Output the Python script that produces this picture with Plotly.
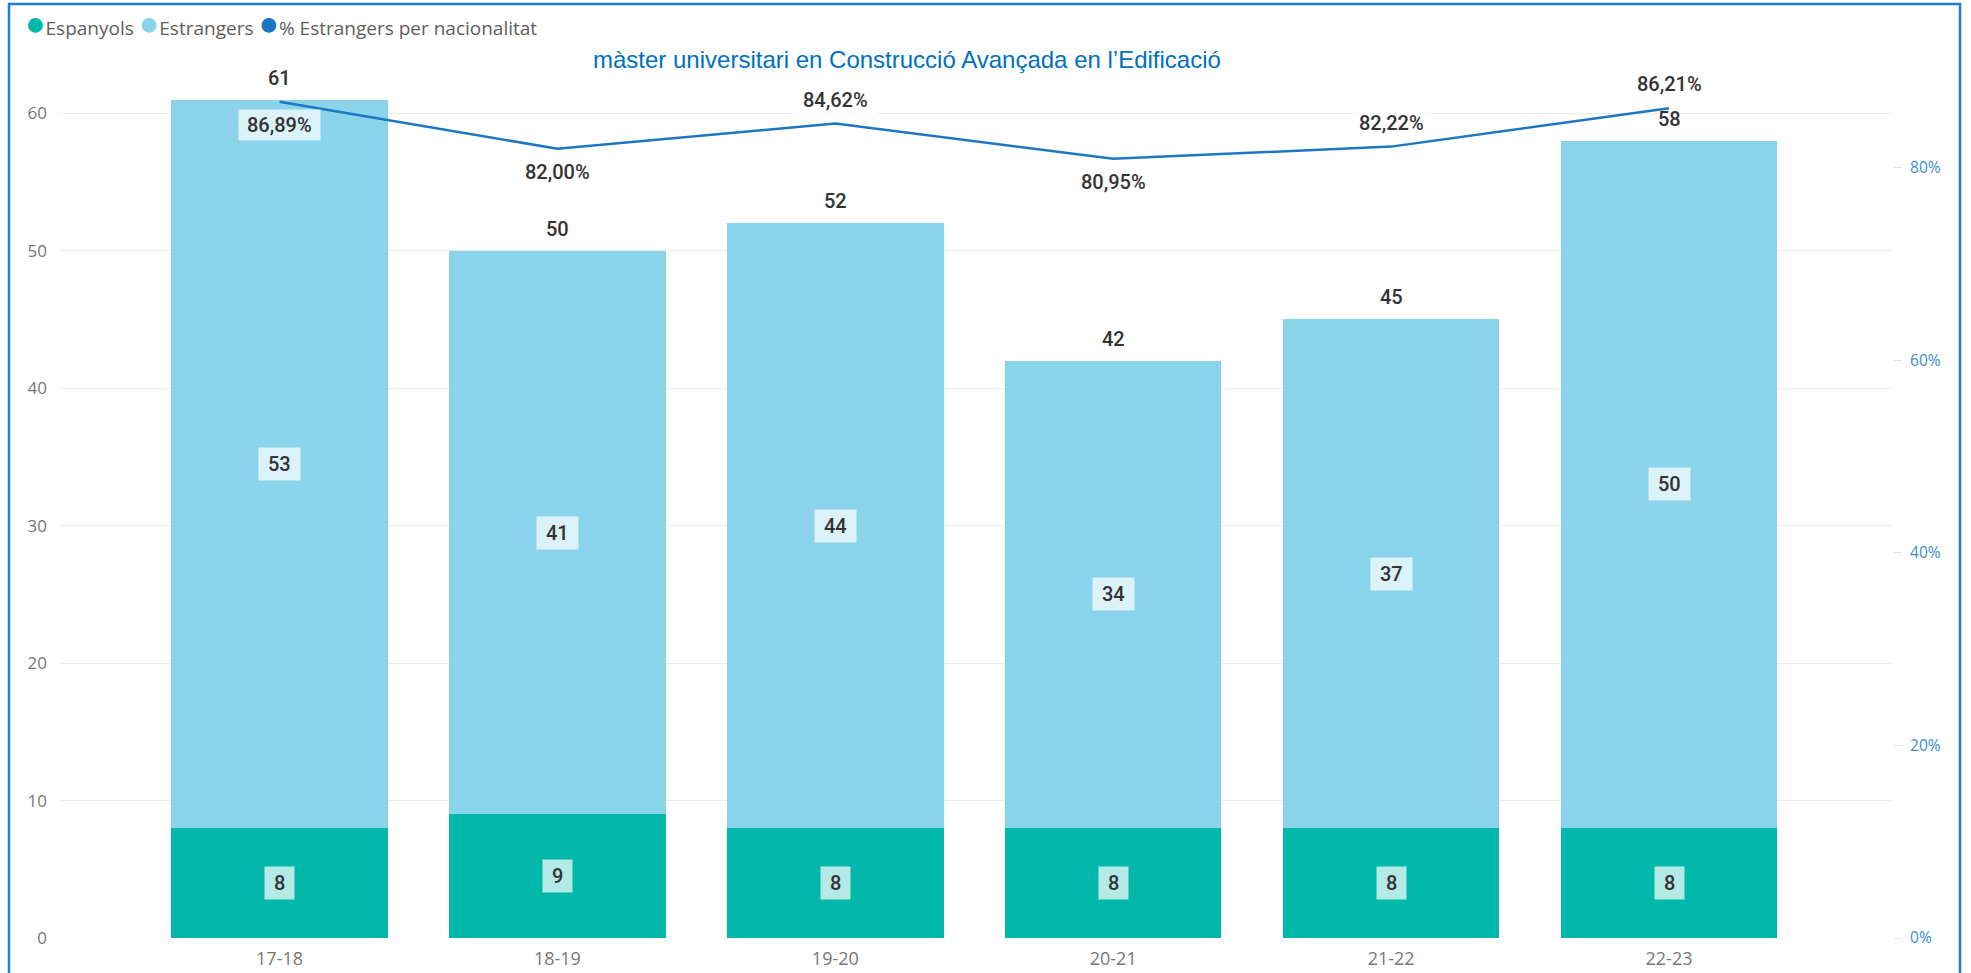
import plotly.graph_objects as go

# ---- data ----
categories = ["17-18", "18-19", "19-20", "20-21", "21-22", "22-23"]
espanyols = [8, 9, 8, 8, 8, 8]
estrangers = [53, 41, 44, 34, 37, 50]
pct_estrangers = [0.8689, 0.8200, 0.8462, 0.8095, 0.8222, 0.8621]
left_ticks = [0, 10, 20, 30, 40, 50, 60]
right_ticks = [0, 0.2, 0.4, 0.6, 0.8]
right_tick_labels = ["0%", "20%", "40%", "60%", "80%"]
title_text = "màster universitari en Construcció Avançada en l’Edificació"
legend_names = ["Espanyols", "Estrangers", "% Estrangers per nacionalitat"]

# ---- style ----
C_ESP = "#01B8AA"
C_EST = "#8AD4EB"
C_LINE = "#1C76C2"
C_RAXIS = "#3A8FD0"
LABEL_FONT = dict(family="Roboto", size=20, color="#333333", weight=500)
BOX_BG = "rgba(255,255,255,0.7)"
NB = "\u00a0"
pct_side = [-1, -1, 1, -1, 1, 1]  # label below (-1) / above (+1) the line point

W, H = 1971, 973
ML, MR, MT, MB = 60, 78, 70, 35
PW, PH = W - ML - MR, H - MT - MB

fig = go.Figure()

fig.add_trace(go.Bar(x=categories, y=espanyols, name=legend_names[0],
                     marker=dict(color=C_ESP, line=dict(width=0)), width=0.779,
                     showlegend=False))
fig.add_trace(go.Bar(x=categories, y=estrangers, name=legend_names[1],
                     marker=dict(color=C_EST, line=dict(width=0)), width=0.779,
                     showlegend=False))
fig.add_trace(go.Scatter(x=categories, y=pct_estrangers, name=legend_names[2],
                         mode="lines", line=dict(color=C_LINE, width=2.5),
                         yaxis="y2", showlegend=False))

ann = []
for i, c in enumerate(categories):
    e, s = espanyols[i], estrangers[i]
    total = e + s
    ann.append(dict(x=c, y=e / 2, xref="x", yref="y", text=NB + str(e) + NB,
                    showarrow=False, font=LABEL_FONT, bgcolor=BOX_BG, borderpad=4))
    ann.append(dict(x=c, y=e + s / 2, xref="x", yref="y", text=NB + str(s) + NB,
                    showarrow=False, font=LABEL_FONT, bgcolor=BOX_BG, borderpad=4))
    ann.append(dict(x=c, y=total, xref="x", yref="y", text=str(total), showarrow=False,
                    font=LABEL_FONT, yshift=22))
    p = pct_estrangers[i]
    ptxt = f"{p * 100:.2f}".replace(".", ",") + "%"
    ann.append(dict(x=c, y=p, xref="x", yref="y2", text=NB + ptxt + NB, showarrow=False,
                    font=LABEL_FONT, bgcolor=BOX_BG, borderpad=3,
                    yshift=(23 if pct_side[i] < 0 else 24) * pct_side[i]))

# title
ann.append(dict(x=(907 - ML) / PW, y=(H - MB - 44) / PH, xref="paper", yref="paper",
                text=title_text, showarrow=False,
                font=dict(family="Liberation Sans", size=24, color="#0070C0")))

# legend (round markers, tight spacing)
legend_colors = [C_ESP, C_EST, C_LINE]
legend_html = " ".join(
    f"<span style='color:{col};font-size:34px'>●</span>{nm}"
    for nm, col in zip(legend_names, legend_colors))
ann.append(dict(x=(23 - ML) / PW, y=(H - MB - 22) / PH, xref="paper", yref="paper",
                xanchor="left", yanchor="middle", text=legend_html, showarrow=False,
                font=dict(family="Open Sans", size=19, color="#605E5C")))

# outer blue border
shapes = [dict(type="rect", xref="paper", yref="paper",
               x0=(9 - ML) / PW, x1=(1960 - ML) / PW,
               y0=(H - MB - 990) / PH, y1=(H - MB - 4) / PH,
               line=dict(color="#1E7FD0", width=2.5), fillcolor="rgba(0,0,0,0)", layer="above")]

fig.update_layout(
    width=W, height=H,
    margin=dict(l=ML, r=MR, t=MT, b=MB, autoexpand=False),
    paper_bgcolor="white", plot_bgcolor="white",
    barmode="stack", showlegend=False,
    font=dict(family="Open Sans", color="#777777"),
    xaxis=dict(type="category", range=[-0.790, 5.806], showgrid=False, zeroline=False,
               showline=False, ticks="outside", ticklen=4, tickcolor="rgba(0,0,0,0)",
               tickfont=dict(family="Open Sans", size=18, color="#777777")),
    yaxis=dict(range=[0, 63.15], tickvals=left_ticks, showgrid=True, gridcolor="#EBEBEB",
               gridwidth=1, zeroline=False, showline=False, ticklabelstandoff=12,
               tickfont=dict(family="Open Sans", size=17, color="#777777")),
    yaxis2=dict(range=[0, 0.9018], overlaying="y", side="right", tickvals=right_ticks,
                ticktext=right_tick_labels, showgrid=False, zeroline=False, showline=False,
                ticks="outside", ticklen=8, tickcolor="#E6E6E6", ticklabelstandoff=5,
                tickfont=dict(family="Open Sans", size=15.5, color=C_RAXIS)),
    annotations=ann,
    shapes=shapes,
)

fig.write_html("out.html", config={"displayModeBar": False},
               post_script="document.body.style.margin='0';document.body.style.overflow='hidden';")
